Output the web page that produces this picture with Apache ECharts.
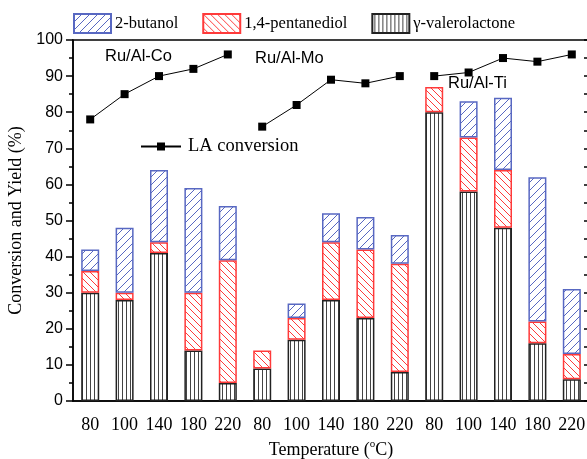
<!DOCTYPE html>
<html>
<head>
<meta charset="utf-8">
<script src="https://cdn.jsdelivr.net/npm/echarts@6/dist/echarts.min.js"></script>
<style>html,body{margin:0;padding:0;background:#fff;}#c{width:587px;height:459px;}</style>
</head>
<body>
<div id="c"></div>
<script>
// ---- data ----
const categories = ['80','100','140','180','220','80','100','140','180','220','80','100','140','180','220'];
// segment yields (%) — bottom: γ-valerolactone, middle: 1,4-pentanediol, top: 2-butanol
const gvl   = [30, 28, 41, 14, 5,   9, 17, 28, 23, 8,   80, 58, 48, 16, 6];
const pdo   = [6,  2,  3,  16, 34,  5, 6,  16, 19, 30,  7,  15, 16, 6,  7];
const but2  = [6,  18, 20, 29, 15,  0, 4,  8,  9,  8,   0,  10, 20, 40, 18];
// LA conversion per catalyst
const laCo = [78, 85, 90, 92, 96];
const laMo = [76, 82, 89, 88, 90];
const laTi = [90, 91, 95, 94, 96];
const groupLabels = ['Ru/Al-Co', 'Ru/Al-Mo', 'Ru/Al-Ti'];

// ---- helpers ----
function hatch(size, color, dir, bg) {
  const c = document.createElement('canvas');
  c.width = size; c.height = size;
  const g = c.getContext('2d');
  g.fillStyle = bg || '#fff';
  g.fillRect(0, 0, size, size);
  g.strokeStyle = color;
  g.lineWidth = 1;
  g.beginPath();
  if (dir === '/') {
    [-size, 0, size].forEach(k => { g.moveTo(k, size); g.lineTo(k + size, 0); });
  } else if (dir === '\\') {
    [-size, 0, size].forEach(k => { g.moveTo(k, 0); g.lineTo(k + size, size); });
  } else {
    g.moveTo(size / 2 + 0.5, 0); g.lineTo(size / 2 + 0.5, size);
  }
  g.stroke();
  return c;
}
const nz = arr => arr.map(v => (v === 0 ? null : v));
function pad(vals, start) {
  const out = categories.map(() => null);
  vals.forEach((v, i) => { out[start + i] = v; });
  return out;
}

const BLUE = '#5868c2', RED = '#ff3a3a', BLK = '#222';
const serif = '"Liberation Serif", "Times New Roman", serif';
const sans = '"Liberation Sans", Arial, sans-serif';

const chart = echarts.init(document.getElementById('c'), null, {renderer: 'canvas'});

const lineBase = {
  type: 'line', name: 'LA conversion', yAxisIndex: 0, z: 5,
  symbol: 'rect', symbolSize: 8, connectNulls: false,
  itemStyle: {color: '#000'}, lineStyle: {color: '#000', width: 1},
  emphasis: {disabled: true}, animation: false
};

chart.setOption({
  animation: false,
  grid: {left: 73, top: 40, width: 516, height: 361, outerBoundsMode: 'none', containLabel: false,
    show: true, borderColor: '#000', borderWidth: 1.5, backgroundColor: 'transparent'},
  legend: [
    {
      data: ['2-butanol', '1,4-pentanediol', 'γ-valerolactone'],
      left: 73, top: 13, padding: 0, itemWidth: 37, itemHeight: 19, itemGap: 24,
      icon: 'rect',
      textStyle: {fontFamily: serif, fontSize: 16.5, color: '#000', padding: [0, 0, 0, -1]}
    },
    {
      data: ['LA conversion'],
      left: 140, top: 137, padding: 0, itemWidth: 40, itemHeight: 10,
      textStyle: {fontFamily: serif, fontSize: 18.5, color: '#000', padding: [0, 0, 0, 2]}
    }
  ],
  xAxis: {
    type: 'category', data: categories, boundaryGap: true,
    axisLine: {lineStyle: {color: '#000', width: 1.5}},
    axisTick: {alignWithLabel: true, length: 6, lineStyle: {color: '#000', width: 1.5}},
    axisLabel: {fontFamily: serif, fontSize: 18, color: '#000', margin: 15, interval: 0},
    name: 'Temperature ({sup|o}C)', nameLocation: 'middle', nameGap: 34,
    nameTextStyle: {fontFamily: serif, fontSize: 18, color: '#000',
      rich: {sup: {fontFamily: serif, fontSize: 11, color: '#000', verticalAlign: 'top', padding: [0, 0, 11, 0]}}},
    splitLine: {show: false}
  },
  yAxis: [
    {
      type: 'value', min: 0, max: 100, interval: 10, position: 'left',
      axisLine: {show: true, lineStyle: {color: '#000', width: 1.5}},
      axisTick: {show: true, length: 7, lineStyle: {color: '#000', width: 1.5}},
      minorTick: {show: true, splitNumber: 2, length: 4, lineStyle: {color: '#000', width: 1.5}},
      axisLabel: {fontFamily: sans, fontSize: 16, color: '#000', margin: 10},
      splitLine: {show: false},
      name: 'Conversion and Yield (%)', nameLocation: 'middle', nameGap: 44, nameRotate: 90,
      nameTextStyle: {fontFamily: serif, fontSize: 18, color: '#000'}
    },
    {
      type: 'value', min: 0, max: 100, interval: 5, position: 'right',
      axisLine: {show: true, lineStyle: {color: '#000', width: 1.5}},
      axisTick: {show: true, inside: true, length: 5, lineStyle: {color: '#000', width: 1.5}},
      axisLabel: {show: false}, splitLine: {show: false}
    }
  ],
  graphic: [
    {type: 'text', left: 105, top: 48, style: {text: groupLabels[0], font: '16.5px ' + sans, fill: '#000'}},
    {type: 'text', left: 255, top: 50, style: {text: groupLabels[1], font: '16.5px ' + sans, fill: '#000'}},
    {type: 'text', left: 448, top: 75, style: {text: groupLabels[2], font: '16.5px ' + sans, fill: '#000'}}
  ],
  series: [
    {
      type: 'bar', name: 'γ-valerolactone', stack: 'y', data: nz(gvl), barWidth: 18,
      itemStyle: {color: {image: hatch(4, '#444', '|'), repeat: 'repeat'}, borderColor: BLK, borderWidth: 1.5},
      emphasis: {disabled: true}
    },
    {
      type: 'bar', name: '1,4-pentanediol', stack: 'y', data: nz(pdo), barWidth: 18,
      itemStyle: {color: {image: hatch(7, RED, '\\'), repeat: 'repeat'}, borderColor: RED, borderWidth: 1.5},
      emphasis: {disabled: true}
    },
    {
      type: 'bar', name: '2-butanol', stack: 'y', data: nz(but2), barWidth: 18,
      itemStyle: {color: {image: hatch(8, BLUE, '/'), repeat: 'repeat'}, borderColor: BLUE, borderWidth: 1.5},
      emphasis: {disabled: true}
    },
    Object.assign({}, lineBase, {data: pad(laCo, 0)}),
    Object.assign({}, lineBase, {data: pad(laMo, 5)}),
    Object.assign({}, lineBase, {data: pad(laTi, 10)})
  ]
});
</script>
</body>
</html>
